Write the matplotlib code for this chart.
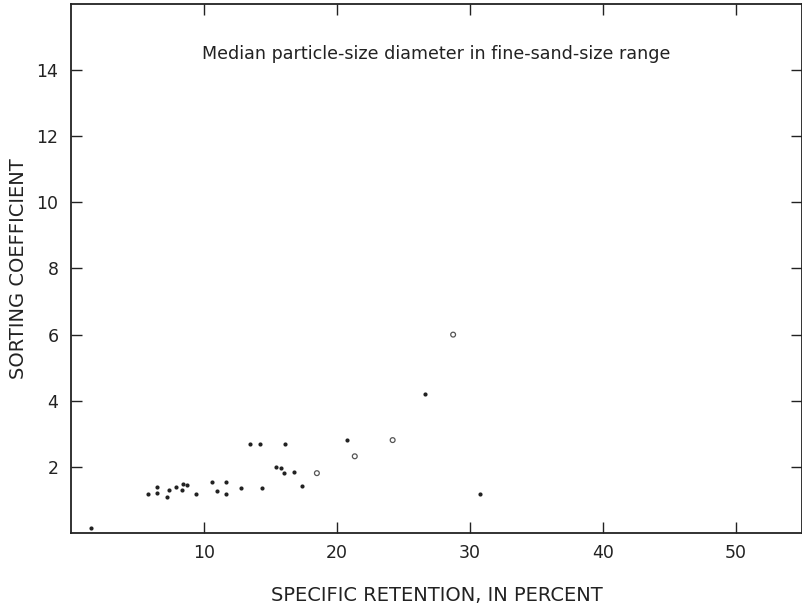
import matplotlib
matplotlib.use("Agg")
import matplotlib.pyplot as plt
import numpy as np

# filled dots
x_fill = np.array([5.8, 6.45, 6.5, 7.25, 7.4, 7.9, 8.35, 8.4, 8.75, 9.4, 10.6, 11.0,
                   11.7, 11.7, 12.8, 14.4, 13.5, 14.2, 16.1, 15.4, 15.8, 16.0, 16.8,
                   17.4, 20.8, 26.6, 30.8, 1.5])
y_fill = np.array([1.17, 1.22, 1.40, 1.10, 1.30, 1.40, 1.30, 1.49, 1.44, 1.18, 1.55, 1.28,
                   1.53, 1.19, 1.36, 1.35, 2.68, 2.68, 2.69, 1.99, 1.97, 1.82, 1.86,
                   1.42, 2.81, 4.2, 1.19, 0.15])
# open circles
x_open = np.array([18.5, 21.35, 24.2, 28.75])
y_open = np.array([1.81, 2.32, 2.81, 6.0])

xticks = [10, 20, 30, 40, 50]
yticks = [2, 4, 6, 8, 10, 12, 14]

ink = "#222222"

fig = plt.figure(figsize=(8.03, 6.13), dpi=100)
ax = fig.add_axes([0.0884, 0.1305, 0.9104, 0.863])

ax.scatter(x_fill, y_fill, s=9, color=ink, linewidths=0, zorder=3)
ax.scatter(x_open, y_open, s=12, facecolors="none", edgecolors="#555555",
           linewidths=0.9, zorder=3)

ax.set_xlim(0, 55)
ax.set_ylim(0, 16)
ax.set_xticks(xticks)
ax.set_yticks(yticks)
ax.tick_params(direction="in", length=8, width=1, colors=ink, labelsize=12.5,
               top=True, right=True)
ax.tick_params(axis="x", pad=8)
ax.tick_params(axis="y", pad=9)
for s in ax.spines.values():
    s.set_color(ink)
    s.set_linewidth(1.3)

ax.set_xlabel("SPECIFIC RETENTION, IN PERCENT", fontsize=14, color=ink, labelpad=17)
ax.set_ylabel("SORTING COEFFICIENT", fontsize=14, color=ink, labelpad=6)
ax.text(0.5, 0.905, "Median particle-size diameter in fine-sand-size range",
        transform=ax.transAxes, ha="center", va="center", fontsize=12.6, color=ink)

fig.savefig("out.png", dpi=100)
